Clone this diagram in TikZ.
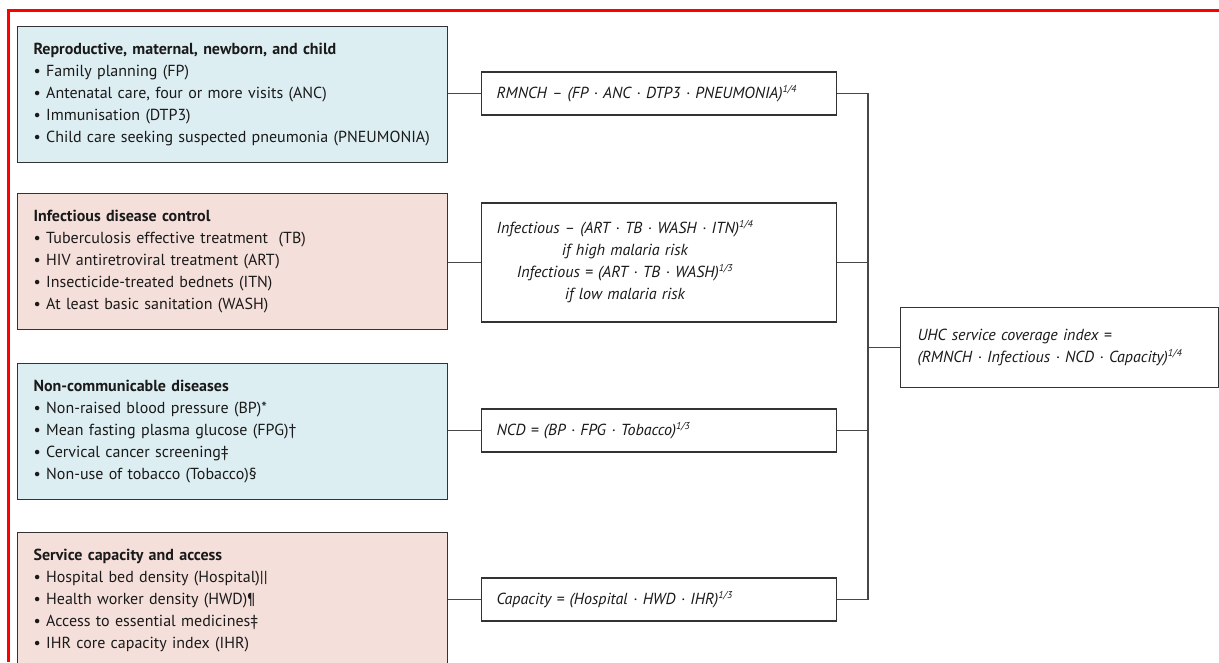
\documentclass[tikz,border=0pt]{standalone}
\usepackage{fontspec}
\setmainfont{PT Sans}
\definecolor{bluebg}{HTML}{DDEEF3}
\definecolor{pinkbg}{HTML}{F5DFDA}
\definecolor{edge}{HTML}{333333}
\definecolor{ink}{HTML}{1A1A1A}
\definecolor{frame}{HTML}{FF0000}
\newcommand{\sfr}[1]{\textsuperscript{\fontsize{10}{10}\selectfont #1}}
\begin{document}
\begin{tikzpicture}[x=1pt,y=-1pt,
  catbox/.style={draw=edge, line width=1.2pt, anchor=north west,
    minimum width=430pt, minimum height=136pt, text width=398pt,
    inner xsep=16pt, inner ysep=0pt, align=left,
    font=\fontsize{16}{22}\selectfont, text=ink},
  fbox/.style={draw=edge, line width=1.2pt, anchor=west, fill=white,
    minimum width=355pt, minimum height=43pt, text width=325pt,
    inner xsep=15pt, inner ysep=0pt, align=left,
    font=\fontsize{16}{22}\selectfont\itshape, text=ink},
  conn/.style={draw=edge!90, line width=1.2pt}]
\useasboundingbox (0,0) rectangle (1219,662);
\clip (0,0) rectangle (1219,662);
\fill[white] (0,0) rectangle (1219,662);
% red frame
\draw[frame, line width=3pt] (8,662) -- (8,10.5) -- (1219,10.5);
% category boxes
\node[catbox, fill=bluebg] (b1) at (17,26) {\textbf{Reproductive, maternal, newborn, and child}\\
  • Family planning (FP)\\
  • Antenatal care, four or more visits (ANC)\\
  • Immunisation (DTP3)\\
  • Child care seeking suspected pneumonia (PNEUMONIA)};
\node[catbox, fill=pinkbg] (b2) at (17,193) {\textbf{Infectious disease control}\\
  • Tuberculosis effective treatment\ \ (TB)\\
  • HIV antiretroviral treatment (ART)\\
  • Insecticide-treated bednets (ITN)\\
  • At least basic sanitation (WASH)};
\node[catbox, fill=bluebg] (b3) at (17,363) {\textbf{Non-communicable diseases}\\
  • Non-raised blood pressure (BP)*\\
  • Mean fasting plasma glucose (FPG)†\\
  • Cervical cancer screening‡\\
  • Non-use of tobacco (Tobacco)§};
\node[catbox, fill=pinkbg] (b4) at (17,532) {\textbf{Service capacity and access}\\
  • Hospital bed density (Hospital)||\\
  • Health worker density (HWD)¶\\
  • Access to essential medicines‡\\
  • IHR core capacity index (IHR)};
% formula boxes
\node[fbox] (f1) at (481,93.5) {RMNCH – (FP · ANC · DTP3 · PNEUMONIA)\sfr{1/4}};
\node[fbox, minimum height=119pt] (f2) at (481,262.5) {\begin{tabular}{@{}c@{}}Infectious – (ART · TB · WASH · ITN)\sfr{1/4}\\
  if high malaria risk\\
  Infectious = (ART · TB · WASH)\sfr{1/3}\\
  if low malaria risk\end{tabular}};
\node[fbox] (f3) at (481,430.5) {NCD = (BP · FPG · Tobacco)\sfr{1/3}};
\node[fbox] (f4) at (481,599.5) {Capacity = (Hospital · HWD · IHR)\sfr{1/3}};
% overall index
\node[fbox, anchor=north west, minimum width=318pt, minimum height=80pt, text width=284pt, inner xsep=17pt] (u) at (900,307)
  {UHC service coverage index =\\(RMNCH · Infectious · NCD · Capacity)\sfr{1/4}};
% connectors
\coordinate (tx) at (868,0);
\draw[conn] (b1.east |- f1.west) -- (f1.west);
\draw[conn] (b2.east |- f2.west) -- (f2.west);
\draw[conn] (b3.east |- f3.west) -- (f3.west);
\draw[conn] (b4.east |- f4.west) -- (f4.west);
\draw[conn] (f1.east) -- (f1.east -| tx) -- (f4.east -| tx) -- (f4.east);
\draw[conn] (f2.east) -- (f2.east -| tx);
\draw[conn] (f3.east) -- (f3.east -| tx);
\draw[conn] (u.west -| tx) -- (u.west);
\end{tikzpicture}
\end{document}
